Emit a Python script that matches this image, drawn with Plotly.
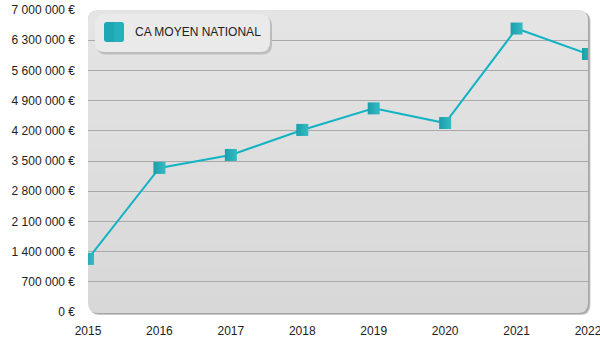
import plotly.graph_objects as go

# --- data ---------------------------------------------------------------
years = [2015, 2016, 2017, 2018, 2019, 2020, 2021, 2022]
ca_moyen = [1230000, 3340000, 3640000, 4220000, 4720000, 4380000, 6570000, 5980000]
series_name = "CA MOYEN NATIONAL"
y_ticks = [0, 700000, 1400000, 2100000, 2800000, 3500000, 4200000, 4900000, 5600000, 6300000, 7000000]
y_tick_text = [f"{v:,}".replace(",", " ") + " €" for v in y_ticks]

# --- geometry helpers (pixel -> paper) ----------------------------------
W, H = 600, 350
ML, MR, MT, MB = 88, 12, 10, 38
PW, PH = W - ML - MR, H - MT - MB


def px(x):
    return (x - ML) / PW


def py(y):
    return (H - MB - y) / PH


def rrect(x0, y0, x1, y1, r, round_bottom=True):
    """Rounded rectangle path given in pixel coords, returned in paper coords."""
    pts = []
    pts.append(f"M {px(x0 + r)},{py(y0)}")
    pts.append(f"L {px(x1 - r)},{py(y0)}")
    pts.append(f"Q {px(x1)},{py(y0)} {px(x1)},{py(y0 + r)}")
    if round_bottom:
        pts.append(f"L {px(x1)},{py(y1 - r)}")
        pts.append(f"Q {px(x1)},{py(y1)} {px(x1 - r)},{py(y1)}")
        pts.append(f"L {px(x0 + r)},{py(y1)}")
        pts.append(f"Q {px(x0)},{py(y1)} {px(x0)},{py(y1 - r)}")
    else:
        pts.append(f"L {px(x1)},{py(y1)}")
        pts.append(f"L {px(x0)},{py(y1)}")
    pts.append(f"L {px(x0)},{py(y0 + r)}")
    pts.append(f"Q {px(x0)},{py(y0)} {px(x0 + r)},{py(y0)}")
    pts.append("Z")
    return " ".join(pts)


def path_shape(path, fill, layer="below", opacity=1.0):
    return dict(type="path", xref="paper", yref="paper", path=path,
                fillcolor=fill, line=dict(width=0), layer=layer, opacity=opacity)


shapes = []
# plot panel: soft shadow, base fill, then a light top-down gradient
shapes.append(path_shape(rrect(90, 12, 590.5, 315, 10), "#c8c8c8"))
shapes.append(path_shape(rrect(89.5, 11, 589.5, 314, 10), "#a6a6a6"))
shapes.append(path_shape(rrect(88, 10, 588, 313, 10), "#d8d8d8"))
N_BANDS = 12
for i in range(N_BANDS):
    bottom = 10 + 303 * (1 - (i + 1) / (N_BANDS + 1))
    shapes.append(path_shape(rrect(88, 10, 588, bottom, 10, round_bottom=False),
                             "#ffffff", opacity=0.036))

# legend box with swatch
shapes.append(path_shape(rrect(96.5, 16, 272, 54.5, 10), "#bdbdbd", layer="above"))
shapes.append(path_shape(rrect(95, 14, 270, 52, 10), "#eaeaea", layer="above"))
shapes.append(path_shape(rrect(104, 22, 124, 42, 3), "#1fa7b3", layer="above"))
shapes.append(path_shape(rrect(114, 22, 124, 42, 3), "#2cb5bf", layer="above", opacity=0.6))

fig = go.Figure()
fig.add_trace(go.Scatter(
    x=years, y=ca_moyen, name=series_name, mode="lines+markers",
    line=dict(color="#14b3c4", width=2),
    marker=dict(symbol="square", size=12, color="#1a9ea9",
                gradient=dict(type="horizontal", color="#36bac4"),
                line=dict(width=0)),
    showlegend=False, cliponaxis=True,
))

tick_font = dict(family="Liberation Sans, Arial, sans-serif", size=12, color="#222222")

fig.update_layout(
    width=W, height=H,
    margin=dict(l=ML, r=MR, t=MT, b=MB, autoexpand=False),
    paper_bgcolor="white", plot_bgcolor="rgba(0,0,0,0)",
    shapes=shapes,
    xaxis=dict(range=[years[0], years[-1]], tickvals=years, ticktext=[str(y) for y in years],
               showgrid=False, zeroline=False, showline=False, ticks="",
               tickfont=tick_font, ticklabelstandoff=10, ticklabeloverflow="allow",
               automargin=False, fixedrange=True),
    yaxis=dict(range=[y_ticks[0], y_ticks[-1]], tickvals=y_ticks, ticktext=y_tick_text,
               showgrid=False, zeroline=False, showline=False, ticks="",
               minor=dict(tickvals=y_ticks[1:-1], showgrid=True, gridcolor="#a9a9a9",
                          gridwidth=1, ticks="", ticklen=0,
                          tickcolor="rgba(0,0,0,0)"),
               tickfont=tick_font, ticklabelstandoff=12, ticklabeloverflow="allow",
               automargin=False, fixedrange=True),
    annotations=[dict(text=series_name, xref="paper", yref="paper",
                      x=px(133), y=py(32), xanchor="left", yanchor="middle",
                      showarrow=False,
                      font=dict(family="Liberation Sans, Arial, sans-serif", size=12,
                                color="#222222"))],
)

fig.write_html("out.html")
